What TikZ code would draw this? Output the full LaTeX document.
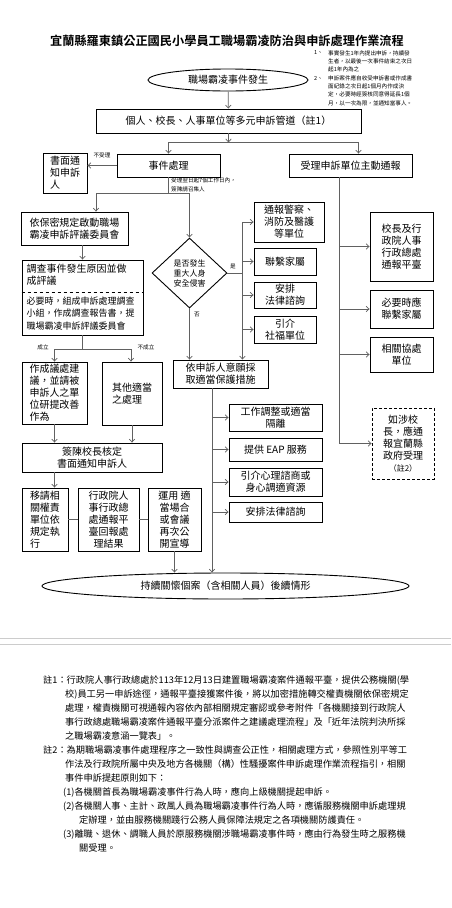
\documentclass[tikz,border=0pt]{standalone}
\usepackage{fontspec}
\setmainfont{Noto Sans CJK TC}[BoldFont={Noto Sans CJK TC Bold}]
\usetikzlibrary{arrows.meta,shapes.geometric}
\definecolor{linkgray}{gray}{0.38}
\definecolor{sepgray}{gray}{0.8}
\newcommand{\boxfont}{\fontsize{10}{12}\selectfont}
\newcommand{\tagfont}{\fontsize{5.6}{8.3}\selectfont}
\tikzset{
  box/.style={draw,line width=0.9pt,inner sep=1.5pt,font=\boxfont,align=center},
  link/.style={draw=linkgray,line width=0.7pt},
  smalltag/.style={font=\tagfont,inner sep=0pt,align=left},
  note/.style={font=\fontsize{9.2}{14}\selectfont,inner sep=0pt,anchor=west},
}

\begin{document}
\begin{tikzpicture}[x=1pt,y=-1pt,>={Straight Barb[length=3pt,width=5.5pt]}]
  \useasboundingbox (0,0) rectangle (451,908);
  % title
  \node[font=\fontsize{12.2}{14}\selectfont\bfseries] (title) at (227,41)
       {宜蘭縣羅東鎮公正國民小學員工職場霸凌防治與申訴處理作業流程};
  % time limits
  \node[smalltag,anchor=west] (lim1no) at (314,53) {1、};
  \node[smalltag,anchor=west] (lim1) at (328,61.3)
       {事實發生1年內提出申訴，持續發\\生者，以最後一次事件結束之次日\\起1年內為之};
  \node[smalltag,anchor=west] (lim2no) at (314,78) {2、};
  \node[smalltag,anchor=west] (lim2) at (328,90.5)
       {申訴案件應自收受申訴書或作成書\\面紀錄之次日起1個月內作成決\\定，必要時經簽核同意得延長1個\\月，以一次為限，並通知當事人。};

  % top of the flow
  \node[box,ellipse,inner sep=0pt,minimum width=160pt,minimum height=22pt] (start) at (228,80) {職場霸凌事件發生};
  \node[box,minimum width=265pt,minimum height=24pt] (channel) at (228.5,121) {個人、校長、人事單位等多元申訴管道（註1）};
  \node[box,minimum width=103pt,minimum height=23pt] (handle) at (168.5,165.5) {事件處理};
  \node[box,minimum width=123pt,minimum height=23pt] (report) at (350.5,165.5) {受理申訴單位主動通報};
  \node[box,align=left,minimum width=44pt,minimum height=40pt] (written) at (65,173) {書面通\\知申訴\\人};

  % left branch
  \node[box,align=left,minimum width=107pt,minimum height=33pt] (committee) at (74.5,228.5)
       {依保密規定啟動職場\\霸凌申訴評議委員會};
  \node[box,minimum width=121pt,minimum height=75pt] (invest) at (82.5,297.5) {};
  \node[font=\boxfont,align=left,inner sep=0pt,anchor=north west] (investtop)
       at ([shift={(5pt,-4pt)}]invest.north west) {調查事件發生原因並做\\成評議};
  \node[font=\fontsize{9}{12.5}\selectfont,align=left,inner sep=0pt,anchor=north west] (investsub)
       at ([shift={(5pt,-37pt)}]invest.north west)
       {必要時，組成申訴處理調查\\小組，作成調查報告書，提\\職場霸凌申訴評議委員會};
  \draw[dashed,line width=0.7pt] ([yshift=-33pt]invest.north west) -- ([yshift=-33pt]invest.north east);
  \node[box,align=left,minimum width=65pt,minimum height=62pt] (propose) at (54.5,393)
       {作成議處建\\議，並請被\\申訴人之單\\位研提改善\\作為};
  \node[box,align=left,minimum width=60pt,minimum height=63pt] (other) at (132,393.5) {其他適當\\之處理};
  \node[box,minimum width=140pt,minimum height=29pt] (approve) at (92,457.5) {簽陳校長核定\\書面通知申訴人};
  \node[box,align=left,minimum width=46pt,minimum height=63pt] (transfer) at (45,519.5)
       {移請相\\關權責\\單位依\\規定執\\行};
  \node[box,minimum width=61pt,minimum height=63pt] (feedback) at (108.5,519.5)
       {行政院人\\事行政總\\處通報平\\臺回報處\\理結果};
  \node[box,minimum width=53pt,minimum height=63pt] (promote) at (174.5,519.5)
       {運用 適\\當場合\\或會議\\再次公\\開宣導};

  % middle branch
  \node[box,diamond,inner sep=0pt,minimum width=75pt,minimum height=70pt,
        font=\fontsize{8}{10}\selectfont] (decide) at (189.5,273) {是否發生\\重大人身\\安全侵害};
  \node[box,minimum width=70pt,minimum height=40pt] (police) at (289,222) {通報警察、\\消防及醫護\\等單位};
  \node[box,minimum width=62pt,minimum height=27pt] (family) at (285,261.5) {聯繫家屬};
  \node[box,minimum width=62pt,minimum height=26pt] (legalA) at (285,295) {安排\\法律諮詢};
  \node[box,minimum width=62pt,minimum height=27pt] (welfare) at (285,329.5) {引介\\社福單位};
  \node[box,minimum width=95pt,minimum height=28pt] (protect) at (220.5,374) {依申訴人意願採\\取適當保護措施};
  \node[box,minimum width=93pt,minimum height=27pt] (adjust) at (275.5,417.5) {工作調整或適當\\隔離};
  \node[box,minimum width=93pt,minimum height=23pt] (eap) at (275.5,449.5) {提供 EAP 服務};
  \node[box,minimum width=93pt,minimum height=28pt] (counsel) at (275.5,482) {引介心理諮商或\\身心調適資源};
  \node[box,minimum width=93pt,minimum height=20pt] (legalB) at (275.5,512) {安排法律諮詢};

  % right branch
  \node[box,minimum width=63pt,minimum height=69pt] (principal) at (401.5,246.5) {校長及行\\政院人事\\行政總處\\通報平臺};
  \node[box,minimum width=63pt,minimum height=38pt] (familyB) at (401.5,309) {必要時應\\聯繫家屬};
  \node[box,minimum width=63pt,minimum height=35pt] (assist) at (401.5,354.5) {相關協處\\單位};
  \node[box,dash pattern=on 3pt off 2pt,minimum width=62pt,minimum height=71pt] (county) at (403,443.5)
       {如涉校\\長，應通\\報宜蘭縣\\政府受理\\{\fontsize{8}{10}\selectfont（註2）}};

  % end
  \node[box,ellipse,inner sep=0pt,minimum width=367pt,minimum height=26pt] (finish) at (225.5,586)
       {持續關懷個案（含相關人員）後續情形};

  % connectors
  \draw[link,->] (start) -- (channel);
  \coordinate (chsplit) at ([yshift=-9pt]channel.south);
  \draw[link,->] (channel.south) -- (chsplit);
  \draw[link,->] (chsplit) -| (handle.north);
  \draw[link,->] (chsplit) -| ([xshift=8pt]report.north);
  \draw[link,->] (handle.west) -- (handle.west -| written.east)
        node[smalltag,pos=0.5,above=7pt] (rejectlbl) {不受理};
  \coordinate (hsplit) at ([yshift=-16pt]handle.south);
  \draw[link] (handle.south) -- (hsplit);
  \node[smalltag,anchor=west] (acceptlbl) at (171,185) {受理翌日起7個工作日內，\\簽陳請召集人};
  \draw[link,->] (hsplit) -| ([xshift=21.5pt]committee.north);
  \draw[link,->] (hsplit) -| (decide.north);
  \draw[link,->] (invest.north |- committee.south) -- (invest.north);
  \coordinate (invsplit) at ([yshift=-14pt]invest.south);
  \draw[link] (invest.south) -- (invsplit);
  \draw[link,->] (invsplit) -| (propose.north);
  \draw[link,->] (invsplit) -| ([xshift=-1pt]other.north);
  \node[smalltag] (oklbl) at (43,347) {成立};
  \node[smalltag] (nolbl) at (146,347) {不成立};
  \draw[link,->] (propose.south) -- (propose.south |- approve.north);
  \draw[link,->] (other.south) -- (other.south |- approve.north);
  \draw[link,->] (propose.south |- approve.south) -- (propose.south |- transfer.north);
  \draw[link] (transfer.east) -- (feedback.west);
  \draw[link] (feedback.east) -- (promote.west);
  \draw[link,->] (promote.south) -- (promote.south |- finish.north);
  % yes / no
  \coordinate (yesbus) at ([xshift=15pt]decide.east);
  \draw[link] (decide.east) -- (yesbus);
  \node[smalltag] (yeslbl) at (233,266) {是};
  \draw[link,->] (yesbus) |- (police.west);
  \draw[link,->] (yesbus) |- (family.west);
  \draw[link,->] (yesbus) |- (legalA.west);
  \draw[link,->] (yesbus) |- (welfare.west);
  \draw[link,->] (yesbus) -- (yesbus |- protect.north);
  \draw[link,->] (decide.south) -- (decide.south |- protect.north);
  \node[smalltag] (nolbl2) at (197,315) {否};
  % protection measures
  \coordinate (protbus) at ([xshift=-8.5pt]protect.south);
  \draw[link,->] (protbus) -- (protbus |- finish.north);
  \draw[link,->] (protbus |- adjust.west) -- (adjust.west);
  \draw[link,->] (protbus |- eap.west) -- (eap.west);
  \draw[link,->] (protbus |- counsel.west) -- (counsel.west);
  \draw[link,->] (protbus |- legalB.west) -- (legalB.west);
  % active report
  \coordinate (repbus) at ([xshift=-11.5pt]report.south);
  \draw[link] (repbus) -- (repbus |- county.west);
  \draw[link,->] (repbus |- principal.west) -- (principal.west);
  \draw[link,->] (repbus |- familyB.west) -- (familyB.west);
  \draw[link,->] (repbus |- assist.west) -- (assist.west);
  \draw[link,->] (repbus |- county.west) -- (county.west);

  % page break
  \draw[sepgray,line width=0.8pt] (0,638) -- (451,638);
  \draw[sepgray,line width=0.8pt] (0,644) -- (451,644);

  % notes
  \foreach \nx/\ny/\ntext [count=\k] in {
    43/680/{註1：行政院人事行政總處於113年12月13日建置職場霸凌案件通報平臺，提供公務機關(學},
    65/694/{校)員工另一申訴途徑，通報平臺接獲案件後，將以加密措施轉交權責機關依保密規定},
    65/708/{處理，權責機關可視通報內容依內部相關規定審認或參考附件「各機關接到行政院人},
    65/722/{事行政總處職場霸凌案件通報平臺分派案件之建議處理流程」及「近年法院判決所採},
    65/736/{之職場霸凌意涵一覽表」。},
    43/750/{註2：為期職場霸凌事件處理程序之一致性與調查公正性，相關處理方式，參照性別平等工},
    65/764/{作法及行政院所屬中央及地方各機關（構）性騷擾案件申訴處理作業流程指引，相關},
    65/778/{事件申訴提起原則如下：},
    63/792/{(1)各機關首長為職場霸凌事件行為人時，應向上級機關提起申訴。},
    63/806/{(2)各機關人事、主計、政風人員為職場霸凌事件行為人時，應循服務機關申訴處理規},
    79/820/{定辦理，並由服務機關踐行公務人員保障法規定之各項機關防護責任。},
    63/834/{(3)離職、退休、調職人員於原服務機關涉職場霸凌事件時，應由行為發生時之服務機},
    79/848/{關受理。}}
    \node[note] (note\k) at (\nx,\ny) {\ntext};
\end{tikzpicture}
\end{document}
